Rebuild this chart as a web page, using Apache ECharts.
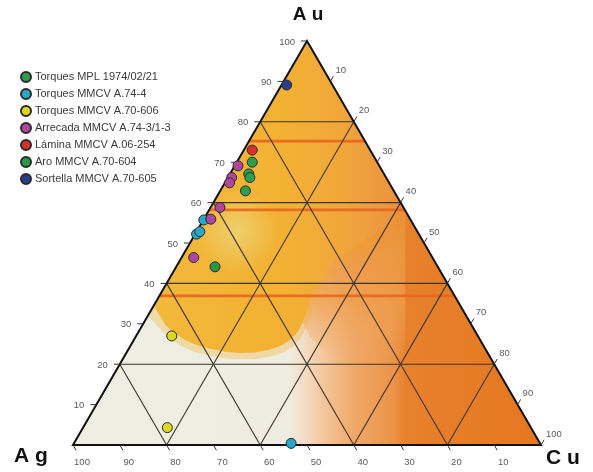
<!DOCTYPE html>
<html>
<head>
<meta charset="utf-8">
<script src="https://cdn.jsdelivr.net/npm/echarts@6/dist/echarts.min.js"></script>
<style>
  html, body { margin: 0; padding: 0; background: #ffffff; }
  #chart { width: 593px; height: 472px; }
</style>
</head>
<body>
<div id="chart"></div>
<script>
// Sample compositions, each as [Ag, Au, Cu] (%)
const torquesMPL   = [[26.7, 70.0, 3.3], [28.9, 67.1, 4.0], [29.1, 66.2, 4.7], [31.7, 62.9, 5.4]];
const torquesA744  = [[44.2, 55.7, 0.1], [47.5, 52.2, 0.3], [46.5, 52.8, 0.7], [53.2, 0.4, 46.4]];
const torquesA70606 = [[65.4, 27.0, 7.6], [77.7, 4.3, 18.0]];
const arrecada     = [[30.2, 69.1, 0.7], [33.0, 66.2, 0.8], [34.1, 64.9, 1.0], [39.2, 58.8, 2.0], [42.6, 55.9, 1.5], [51.0, 46.4, 2.6]];
const lamina       = [[25.2, 73.0, 1.8]];
const aro          = [[47.6, 44.1, 8.3]];
const sortella     = [[9.8, 89.1, 1.1]];

const seriesNames = [
  'Torques MPL 1974/02/21',
  'Torques MMCV A.74-4',
  'Torques MMCV A.70-606',
  'Arrecada MMCV A.74-3/1-3',
  'Lámina MMCV A.06-254',
  'Aro MMCV A.70-604',
  'Sortella MMCV A.70-605'
];
const seriesData = [torquesMPL, torquesA744, torquesA70606, arrecada, lamina, aro, sortella];
const seriesColors = ['#2f9e4c', '#2aa6c6', '#dcd820', '#b0479f', '#d8302c', '#2b9646', '#2b3d8a'];

// Axis ticks and grid
const tickValues = [10, 20, 30, 40, 50, 60, 70, 80, 90, 100];
const gridLevels = [20, 40, 60, 80];
// Au levels of the orange bands printed across the diagram
const bandLevels = [75.2, 58.2, 36.9];

// Ternary [Ag, Au, Cu] -> cartesian [x, y] (Ag corner left, Cu corner right, Au apex)
function toXY(c) {
  const s = c[0] + c[1] + c[2];
  const au = c[1] / s * 100, cu = c[2] / s * 100;
  return [cu + au / 2, au];
}

function seg(a, b) { const p = toXY(a), q = toXY(b); return [p[0], p[1], q[0], q[1]]; }

const gridSegs = [];
gridLevels.forEach(L => {
  gridSegs.push(seg([100 - L, L, 0], [0, L, 100 - L]));      // constant Au
  gridSegs.push(seg([100 - L, 0, L], [0, 100 - L, L]));      // constant Cu
  gridSegs.push(seg([L, 0, 100 - L], [L, 100 - L, 0]));      // constant Ag
});
const bandSegs = bandLevels.map(L => seg([100 - L, L, 0], [0, L, 100 - L]));

// ticks: [x, y, side, value]; side 0 = Au (left), 1 = Cu (right), 2 = Ag (bottom)
const tickData = [];
tickValues.forEach(v => {
  const l = toXY([100 - v, v, 0]); tickData.push([l[0], l[1], 0, v]);
  const r = toXY([0, 100 - v, v]); tickData.push([r[0], r[1], 1, v]);
  const b = toXY([v, 0, 100 - v]); tickData.push([b[0], b[1], 2, v]);
});

const V_AG = toXY([100, 0, 0]), V_AU = toXY([0, 100, 0]), V_CU = toXY([0, 0, 100]);

// outline of the gold-rich field (cartesian units)
const goldCurve = [[19.7, 29.7], [21.8, 27.6], [23.9, 26.0], [26.5, 24.7], [29.3, 23.8], [32.5, 23.1],
  [35.7, 22.8], [38.8, 22.9], [41.7, 23.5], [44.3, 24.5], [46.4, 26.0], [48.0, 28.0], [49.1, 30.4],
  [50.0, 33.0], [50.6, 35.9], [53.0, 41.0], [56.0, 46.0]];
// orange field to the right of it
const orangeField = [[49.1, 30.4], [50.0, 33.0], [50.6, 35.9], [53.0, 41.0], [56.0, 46.0], [64.0, 52.0],
  [71.0, 58.0], [71.0, 22.0], [64.0, 20.5], [57.0, 21.5], [53.0, 24.0], [50.5, 27.0]];

function linRender(style) {
  return function (params, api) {
    const p = api.coord([api.value(0), api.value(1)]);
    const q = api.coord([api.value(2), api.value(3)]);
    return { type: 'line', shape: { x1: p[0], y1: p[1], x2: q[0], y2: q[1] }, style: style };
  };
}

function polyPts(api, pts) { return pts.map(p => api.coord(p)); }

const chart = echarts.init(document.getElementById('chart'), null, { renderer: 'canvas' });

const option = {
  animation: false,
  backgroundColor: '#ffffff',
  grid: { left: 73, right: 52, top: 41, bottom: 27 },
  xAxis: { type: 'value', min: 0, max: 100, show: false },
  yAxis: { type: 'value', min: 0, max: 100, show: false },
  legend: {
    orient: 'vertical',
    left: 20,
    top: 71,
    padding: 0,
    itemWidth: 10,
    itemHeight: 10,
    itemGap: 5,
    icon: 'circle',
    textStyle: { fontFamily: 'Liberation Sans, Arial, sans-serif', fontSize: 11, color: '#3a3a3a', padding: [0, 0, 0, -1] },
    data: seriesNames
  },
  series: [
    // tinted background of the diagram
    {
      type: 'custom', silent: true, z: 1, clip: false,
      data: [[0]],
      renderItem: function (params, api) {
        const tri = polyPts(api, [V_AG, V_CU, V_AU]);
        const goldPts = [V_AU, toXY([65.5, 34.5, 0])].concat(goldCurve, [toXY([0, 55, 45])]);
        const haloPts = [V_AU, toXY([68, 32, 0])].concat(
          goldCurve.map(p => [p[0] + (p[0] < 36 ? -0.6 : 0.6), p[1] - 1.6]), [toXY([0, 52, 48])]);
        const spot = api.coord([35, 53]);
        const goldFill = (a) => new echarts.graphic.LinearGradient(0, 0, 1, 0, [
          { offset: 0, color: 'rgba(242,185,60,' + a + ')' },
          { offset: 0.5, color: 'rgba(243,177,50,' + a + ')' },
          { offset: 0.72, color: 'rgba(240,166,52,' + (a * 0.9) + ')' },
          { offset: 1, color: 'rgba(234,140,45,' + (a * 0.15) + ')' }
        ]);
        return {
          type: 'group',
          children: [
            {
              type: 'polygon', shape: { points: tri },
              style: {
                fill: new echarts.graphic.LinearGradient(0, 0, 1, 0, [
                  { offset: 0, color: '#eeeee2' },
                  { offset: 0.46, color: '#efede1' },
                  { offset: 0.495, color: '#f3dcc4' },
                  { offset: 0.53, color: '#f5c9a1' },
                  { offset: 0.6, color: '#f0a969' },
                  { offset: 0.685, color: '#ec9448' },
                  { offset: 0.71, color: '#e7812c' },
                  { offset: 1, color: '#e57720' }
                ])
              }
            },
            {
              type: 'polygon', shape: { points: polyPts(api, orangeField) },
              style: {
                fill: new echarts.graphic.LinearGradient(0, 0, 0, 1, [
                  { offset: 0, color: 'rgba(236,146,56,0.92)' },
                  { offset: 0.6, color: 'rgba(238,158,74,0.72)' },
                  { offset: 1, color: 'rgba(240,170,100,0)' }
                ])
              }
            },
            { type: 'polygon', shape: { points: polyPts(api, haloPts) }, style: { fill: goldFill(0.35) } },
            { type: 'polygon', shape: { points: polyPts(api, goldPts) }, style: { fill: goldFill(1) } },
            {
              type: 'circle', shape: { cx: spot[0], cy: spot[1], r: 42 },
              style: {
                fill: new echarts.graphic.RadialGradient(0.5, 0.5, 0.5, [
                  { offset: 0, color: 'rgba(236,226,150,0.6)' },
                  { offset: 1, color: 'rgba(236,226,150,0)' }
                ])
              }
            }
          ]
        };
      }
    },
    // orange bands
    {
      type: 'custom', silent: true, z: 2, clip: false,
      data: bandSegs,
      renderItem: linRender({ stroke: '#e8651e', lineWidth: 2.8, opacity: 0.9 })
    },
    // 20 % grid
    {
      type: 'custom', silent: true, z: 3, clip: false,
      data: gridSegs,
      renderItem: linRender({ stroke: '#3d3528', lineWidth: 1.1 })
    },
    // outline of the triangle
    {
      type: 'custom', silent: true, z: 4, clip: false,
      data: [[0]],
      renderItem: function (params, api) {
        return {
          type: 'polygon', shape: { points: polyPts(api, [V_AG, V_CU, V_AU]) },
          style: { fill: 'none', stroke: '#111111', lineWidth: 2, lineJoin: 'miter' }
        };
      }
    },
    // tick marks and tick labels on the three sides
    {
      type: 'custom', silent: true, z: 4, clip: false,
      data: tickData,
      renderItem: function (params, api) {
        const p = api.coord([api.value(0), api.value(1)]);
        const side = api.value(2), v = api.value(3);
        const dirs = [[-1, 0], [0.5, -0.866], [0.5, 0.866]];
        const d = dirs[side], len = 6;
        let tx, ty, align;
        if (side === 0) { tx = p[0] - 12; ty = p[1] + 1; align = 'right'; }
        else if (side === 1) { tx = p[0] + 5; ty = p[1] - 11; align = 'left'; }
        else { tx = p[0] + 9; ty = p[1] + 17; align = 'center'; }
        return {
          type: 'group',
          children: [
            { type: 'line', shape: { x1: p[0], y1: p[1], x2: p[0] + d[0] * len, y2: p[1] + d[1] * len },
              style: { stroke: '#333333', lineWidth: 1 } },
            { type: 'text', x: tx, y: ty,
              style: { text: String(v), fill: '#5a5a5a', font: '9.5px "Liberation Sans", Arial, sans-serif',
                       align: align, verticalAlign: 'middle' } }
          ]
        };
      }
    },
    // component names at the corners
    {
      type: 'custom', silent: true, z: 5, clip: false,
      data: [[0]],
      renderItem: function (params, api) {
        const a = api.coord(V_AU), g = api.coord(V_AG), c = api.coord(V_CU);
        const mk = (x, y, t, font) => ({ type: 'text', x: x, y: y,
          style: { text: t, fill: '#111111', font: font, align: 'center', verticalAlign: 'middle' } });
        return {
          type: 'group',
          children: [
            mk(a[0] + 1, a[1] - 26, 'A u', 'bold 19px "Liberation Sans", Arial, sans-serif'),
            mk(g[0] - 42, g[1] + 11, 'A g', 'bold 21px "Liberation Sans", Arial, sans-serif'),
            mk(c[0] + 22, c[1] + 13, 'C u', 'bold 21px "Liberation Sans", Arial, sans-serif')
          ]
        };
      }
    }
  ].concat(seriesNames.map((name, i) => ({
    name: name,
    type: 'scatter',
    z: 10,
    symbol: 'circle',
    symbolSize: 10,
    itemStyle: { color: seriesColors[i], borderColor: '#2a2a2a', borderWidth: 1, opacity: 1 },
    data: seriesData[i].map(toXY)
  })))
};

chart.setOption(option);
</script>
</body>
</html>
